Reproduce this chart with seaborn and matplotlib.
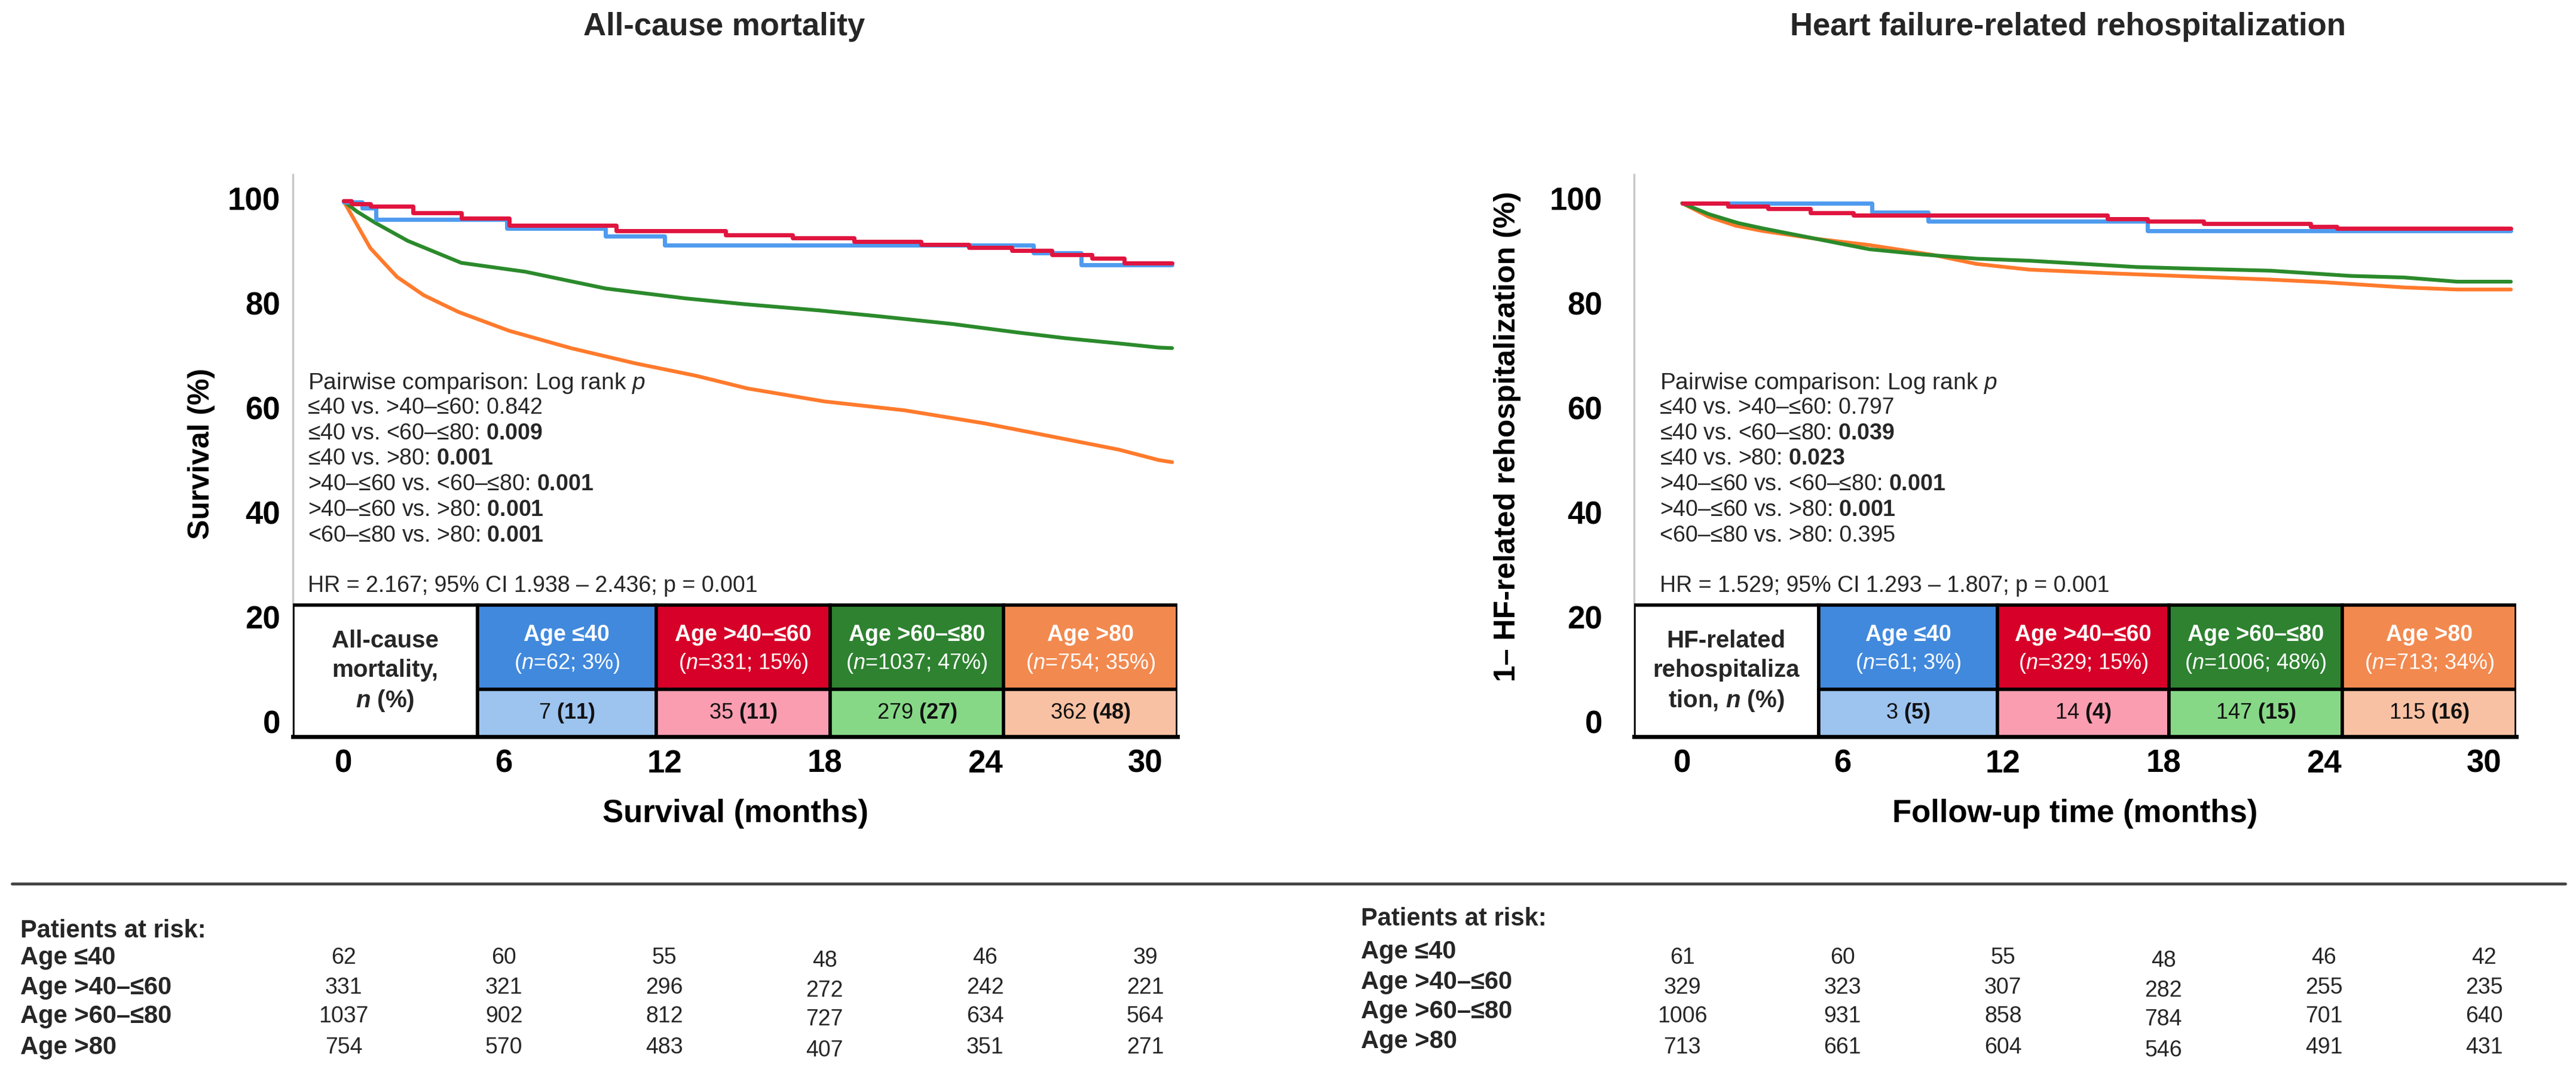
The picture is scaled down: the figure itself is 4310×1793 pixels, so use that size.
import matplotlib
matplotlib.use("Agg")
import matplotlib.pyplot as plt
import matplotlib.transforms as mtransforms
from matplotlib.patches import Rectangle
from matplotlib.lines import Line2D
import seaborn as sns
import pandas as pd

# ---------------- data ----------------
groups = ["Age ≤40", "Age >40–≤60", "Age >60–≤80", "Age >80"]
month_ticks = [0, 6, 12, 18, 24, 30]
pct_ticks = [0, 20, 40, 60, 80, 100]

# all-cause mortality: Kaplan-Meier survival (%)
mort_t_le40 = [0, 0.7, 1.2, 6.1, 9.8, 12.0, 25.8, 27.6, 31.0]
mort_s_le40 = [99.3, 98.2, 96.0, 94.3, 92.8, 91.1, 89.6, 87.3, 87.3]
mort_t_40_60 = [0, 0.3, 1.0, 2.6, 4.4, 6.2, 10.2, 14.3, 16.8, 19.1, 21.6, 23.4, 25.0, 26.5, 28.0, 29.2, 31.0]
mort_s_40_60 = [99.5, 99.0, 98.5, 97.3, 96.2, 94.9, 93.8, 93.0, 92.5, 91.8, 91.2, 90.6, 90.0, 89.3, 88.6, 87.6, 87.6]
mort_t_60_80 = [0, 0.5, 1.2, 2.4, 4.4, 6.8, 9.8, 12.8, 15.0, 17.8, 20.0, 22.8, 25.2, 27.0, 29.0, 30.5, 31.0]
mort_s_60_80 = [99.5, 97.5, 95.3, 91.9, 87.7, 86.0, 82.8, 80.9, 79.8, 78.6, 77.5, 76.0, 74.4, 73.3, 72.3, 71.5, 71.4]
mort_t_gt80 = [0, 0.5, 1.0, 2.0, 3.0, 4.3, 6.2, 8.5, 10.9, 13.2, 15.1, 18.0, 21.0, 24.0, 27.0, 29.0, 30.5, 31.0]
mort_s_gt80 = [99.5, 95.0, 90.5, 85.0, 81.5, 78.3, 74.7, 71.4, 68.5, 66.1, 63.7, 61.2, 59.5, 57.0, 54.0, 52.0, 50.0, 49.6]

# HF-related rehospitalization: 1 - cumulative incidence (%)
hf_t_le40 = [0, 7.1, 9.2, 17.4, 31.0]
hf_s_le40 = [99.1, 97.4, 95.7, 93.8, 93.8]
hf_t_40_60 = [0, 1.7, 3.2, 4.8, 6.4, 15.9, 17.4, 19.5, 23.5, 24.5, 31.0]
hf_s_40_60 = [99.1, 98.5, 98.0, 97.3, 96.8, 96.1, 95.7, 95.2, 94.6, 94.3, 94.3]
hf_t_60_80 = [0, 1, 2.1, 3, 5, 7, 9, 11, 13, 15, 17, 19, 22, 25, 27, 29, 31]
hf_s_60_80 = [99.1, 97.0, 95.3, 94.3, 92.3, 90.3, 89.3, 88.5, 88.1, 87.5, 86.9, 86.6, 86.2, 85.2, 84.9, 84.1, 84.1]
hf_t_gt80 = [0, 1, 2, 3, 5, 7, 9.4, 11, 13, 16, 19, 22, 24, 27, 29, 31]
hf_s_gt80 = [99.1, 96.5, 94.8, 93.8, 92.3, 91.1, 89.2, 87.5, 86.4, 85.7, 85.1, 84.5, 84.0, 83.0, 82.6, 82.6]

# embedded table
mort_n = [62, 331, 1037, 754]
mort_n_pct = [3, 15, 47, 35]
mort_events = [7, 35, 279, 362]
mort_events_pct = [11, 11, 27, 48]
hf_n = [61, 329, 1006, 713]
hf_n_pct = [3, 15, 48, 34]
hf_events = [3, 14, 147, 115]
hf_events_pct = [5, 4, 15, 16]

# pairwise log-rank p values
pair_labels = ["≤40 vs. >40–≤60", "≤40 vs. <60–≤80", "≤40 vs. >80",
               ">40–≤60 vs. <60–≤80", ">40–≤60 vs. >80", "<60–≤80 vs. >80"]
mort_p = ["0.842", "0.009", "0.001", "0.001", "0.001", "0.001"]
mort_p_sig = [False, True, True, True, True, True]
hf_p = ["0.797", "0.039", "0.023", "0.001", "0.001", "0.395"]
hf_p_sig = [False, True, True, True, True, False]
mort_hr = "HR = 2.167; 95% CI 1.938 – 2.436; p = 0.001"
hf_hr = "HR = 1.529; 95% CI 1.293 – 1.807; p = 0.001"

# patients at risk at 0, 6, 12, 18, 24, 30 months
mort_risk_le40 = [62, 60, 55, 48, 46, 39]
mort_risk_40_60 = [331, 321, 296, 272, 242, 221]
mort_risk_60_80 = [1037, 902, 812, 727, 634, 564]
mort_risk_gt80 = [754, 570, 483, 407, 351, 271]
hf_risk_le40 = [61, 60, 55, 48, 46, 42]
hf_risk_40_60 = [329, 323, 307, 282, 255, 235]
hf_risk_60_80 = [1006, 931, 858, 784, 701, 640]
hf_risk_gt80 = [713, 661, 604, 546, 491, 431]

# ---------------- style ----------------
line_colors = {"Age ≤40": "#4f9bef", "Age >40–≤60": "#e0153f",
               "Age >60–≤80": "#2b8a2b", "Age >80": "#ff7a2c"}
cell_dark = ["#4189dd", "#d60028", "#2e8230", "#f2894f"]
cell_light = ["#9dc3ef", "#fa9db0", "#86d886", "#f9c1a3"]

sns.set_theme(style="white")
plt.rcParams["font.family"] = ["Liberation Sans", "DejaVu Sans"]
plt.rcParams.update({
    "mathtext.fontset": "custom",
    "mathtext.rm": "Liberation Sans",
    "mathtext.it": "Liberation Sans:italic",
    "mathtext.bf": "Liberation Sans:bold",
    "mathtext.bfit": "Liberation Sans:italic:bold",
})

W, H = 4310, 1793
fig = plt.figure(figsize=(W / 100, H / 100), dpi=100)
fig.patch.set_facecolor("white")


def px_axes(x0, y0, x1, y1):
    return fig.add_axes([x0 / W, 1 - y1 / H, (x1 - x0) / W, (y1 - y0) / H])


def km_frame(times, survs):
    rows = []
    for g, t, s in zip(groups, times, survs):
        rows += [{"group": g, "time": a, "pct": b} for a, b in zip(t, s)]
    return pd.DataFrame(rows)


def draw_panel(ax, df, xlim, edges, cell_label, n, n_pct, ev, ev_pct,
               p_vals, p_sig, hr, text_x, ylabel, ylabel_xy, xlabel, ytick_pad):
    ax.set_xlim(*xlim)
    ax.set_ylim(-2.86, 104.57)

    # smooth (dense step) curves first, then the sparse step curves
    sm = df[df["group"].isin(groups[2:])]
    sns.lineplot(data=sm, x="time", y="pct", hue="group", hue_order=groups[:1:-1],
                 palette=line_colors, estimator=None, lw=4.5, legend=False, ax=ax)
    st = df[df["group"].isin(groups[:2])]
    sns.lineplot(data=st, x="time", y="pct", hue="group", hue_order=groups[:2],
                 palette=line_colors, estimator=None, lw=5, legend=False,
                 drawstyle="steps-post", ax=ax)

    # axes cosmetics
    ax.set_xticks(month_ticks)
    ax.set_yticks(pct_ticks)
    ax.tick_params(axis="x", length=0, pad=15, labelsize=38)
    ax.tick_params(axis="y", length=0, pad=ytick_pad, labelsize=38)
    for lab in ax.get_xticklabels() + ax.get_yticklabels():
        lab.set_fontweight("bold")
        lab.set_color("black")
    ax.spines["top"].set_visible(False)
    ax.spines["right"].set_visible(False)
    ax.spines["left"].set_color("#c8c8c8")
    ax.spines["left"].set_linewidth(2.5)
    ax.spines["bottom"].set_color("black")
    ax.spines["bottom"].set_linewidth(5)
    ax.set_ylabel(ylabel, fontsize=36, fontweight="bold", color="black")
    ax.yaxis.set_label_coords(*ylabel_xy)
    ax.set_xlabel(xlabel, fontsize=38, fontweight="bold", color="black", va="top")
    ax.xaxis.set_label_coords(0.5, -0.111)

    # pairwise comparison text
    ax.text(text_x, 64.7, r"Pairwise comparison: Log rank $\mathit{p}$",
            fontsize=28, va="center", ha="left")
    ys = [60.0, 55.1, 50.3, 45.4, 40.5, 35.5]
    for y, lab, p, sig in zip(ys, pair_labels, p_vals, p_sig):
        val = r"$\mathbf{%s}$" % p if sig else p
        ax.text(text_x, y, f"{lab}: {val}", fontsize=27, va="center", ha="left")
    ax.text(text_x, 25.9, hr, fontsize=27, va="center", ha="left")

    # embedded table
    top, mid, bot = 22.3, 6.2, -2.86
    ax.add_patch(Rectangle((edges[0], bot), edges[1] - edges[0], top - bot,
                           facecolor="white", edgecolor="black", lw=4, zorder=5))
    ax.text((edges[0] + edges[1]) / 2, 9.6, cell_label, fontsize=29,
            fontweight="bold", ha="center", va="center", linespacing=1.35, zorder=6)
    for i in range(4):
        x0, x1 = edges[i + 1], edges[i + 2]
        ax.add_patch(Rectangle((x0, mid), x1 - x0, top - mid, facecolor=cell_dark[i],
                               edgecolor="black", lw=4, zorder=5))
        ax.add_patch(Rectangle((x0, bot), x1 - x0, mid - bot, facecolor=cell_light[i],
                               edgecolor="black", lw=4, zorder=5))
        xc = (x0 + x1) / 2
        ax.text(xc, 16.6, groups[i], color="white", fontsize=27, fontweight="bold",
                ha="center", va="center", zorder=6)
        ax.text(xc, 11.1, r"($\mathit{n}$=%d; %d%%)" % (n[i], n_pct[i]), color="white",
                fontsize=26, ha="center", va="center", zorder=6)
        ax.text(xc, 1.6, r"%d $\mathbf{(%d)}$" % (ev[i], ev_pct[i]), color="#111111",
                fontsize=26, ha="center", va="center", zorder=6)


def draw_risk(ax, risk_rows, label_x, header_y, label_ys, num_ys):
    tr = mtransforms.blended_transform_factory(ax.transData, fig.transFigure)
    fig.text(label_x / W, 1 - header_y / H, "Patients at risk:", fontsize=30,
             fontweight="bold", ha="left", va="center")
    for g, row, ly, ny in zip(groups, risk_rows, label_ys, num_ys):
        fig.text(label_x / W, 1 - ly / H, g, fontsize=30, fontweight="bold",
                 ha="left", va="center")
        for m, v in zip(month_ticks, row):
            dy = 5 if m == 18 else 0
            ax.text(m, 1 - (ny + dy) / H, str(v), transform=tr, fontsize=27,
                    ha="center", va="center", clip_on=False)


# ---------------- left panel: all-cause mortality ----------------
ax1 = px_axes(490, 292, 1970, 1232)
df1 = km_frame([mort_t_le40, mort_t_40_60, mort_t_60_80, mort_t_gt80],
               [mort_s_le40, mort_s_40_60, mort_s_60_80, mort_s_gt80])
draw_panel(ax1, df1, (-1.9, 31.2), [-1.9, 5.0, 11.7, 18.2, 24.7, 31.2],
           "All-cause\nmortality,\n$\\mathbfit{n}$ (%)",
           mort_n, mort_n_pct, mort_events, mort_events_pct,
           mort_p, mort_p_sig, mort_hr, -1.34,
           "Survival (%)", (-0.0878, 0.503), "Survival (months)", 15)

# ---------------- right panel: HF rehospitalization ----------------
ax2 = px_axes(2734, 292, 4210, 1232)
df2 = km_frame([hf_t_le40, hf_t_40_60, hf_t_60_80, hf_t_gt80],
               [hf_s_le40, hf_s_40_60, hf_s_60_80, hf_s_gt80])
draw_panel(ax2, df2, (-1.8, 31.2), [-1.8, 5.1, 11.8, 18.2, 24.7, 31.2],
           "HF-related\nrehospitaliza\ntion, $\\mathbfit{n}$ (%)",
           hf_n, hf_n_pct, hf_events, hf_events_pct,
           hf_p, hf_p_sig, hf_hr, -0.83,
           "1– HF-related rehospitalization (%)", (-0.128, 0.534),
           "Follow-up time (months)", 38)

# titles
fig.text(1212 / W, 1 - 45 / H, "All-cause mortality", fontsize=38,
         fontweight="bold", ha="center", va="center")
fig.text(3460 / W, 1 - 45 / H, "Heart failure-related rehospitalization", fontsize=38,
         fontweight="bold", ha="center", va="center")

# separator rule
fig.add_artist(Line2D([20 / W, 4292 / W], [1 - 1478 / H] * 2, color="#444444", lw=3.5))

# patients at risk
draw_risk(ax1, [mort_risk_le40, mort_risk_40_60, mort_risk_60_80, mort_risk_gt80],
          34, 1557, [1602, 1652, 1700, 1752], [1602, 1652, 1700, 1752])
draw_risk(ax2, [hf_risk_le40, hf_risk_40_60, hf_risk_60_80, hf_risk_gt80],
          2277, 1537, [1592, 1643, 1692, 1742], [1602, 1652, 1700, 1752])

fig.savefig("out.png", dpi=100, facecolor="white")
